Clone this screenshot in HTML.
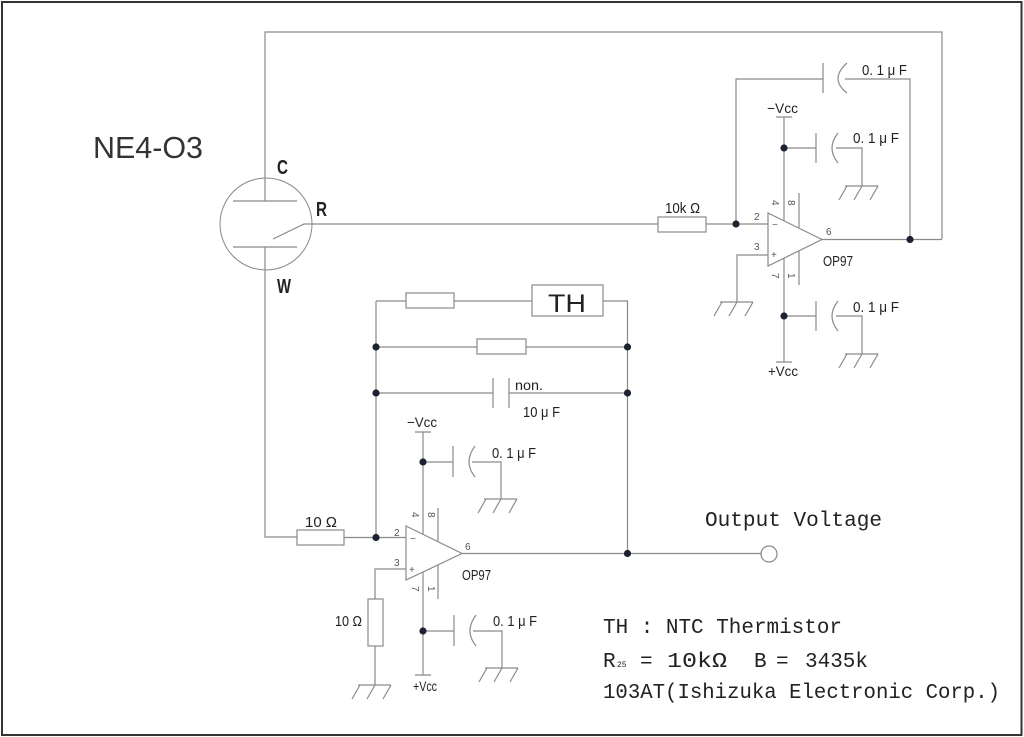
<!DOCTYPE html>
<html><head><meta charset="utf-8"><style>
html,body{margin:0;padding:0;background:#fff;}
svg{display:block;}
text{font-family:"Liberation Sans","Noto Sans CJK JP",sans-serif;fill:#222;}
.m{font-family:"Liberation Mono","Noto Sans CJK JP",monospace;fill:#222;}
.p{font-size:10px;fill:#555;}
</style></head><body>
<svg width="1024" height="737" viewBox="0 0 1024 737" xmlns="http://www.w3.org/2000/svg">
<rect x="2" y="2" width="1019.5" height="733" fill="#fff" stroke="#333" stroke-width="2"/>
<g fill="none" stroke="#8a8a8a" stroke-width="1.2">
<!-- sensor -->
<circle cx="266" cy="224" r="46" stroke="#888" stroke-width="1"/>
<path d="M942,239 V32 H265 V201"/>
<path d="M233,201 H297 M233,247 H297"/>
<path d="M265,247 V537 H297"/>
<path d="M273,239 L304,224 H658"/>
<!-- upper opamp -->
<rect x="658" y="217" width="48" height="15"/>
<path d="M706,224 H768"/>
<path d="M736,224 V79 H823 M823,63 V93"/>
<path d="M847,63 Q829,79 847,93"/>
<path d="M845,79 H910 V239"/>
<path d="M822,239.5 H942"/>
<path d="M768,213 L822,239.5 L768,266 Z"/>
<path d="M784,117 V221 M776,117 H792"/>
<path d="M784,148 H816 M816,133 V163"/>
<path d="M838,133 Q826,148 838,163"/>
<path d="M836,148 H862 V186"/>
<path d="M845,186 H878 M847,186 L839,200 M862,186 L854,200 M878,186 L870,200"/>
<path d="M799,193 V228 M799,251 V285"/>
<path d="M784,258 V362 M776,362 H792"/>
<path d="M784,316 H816 M816,301 V331"/>
<path d="M838,301 Q826,316 838,331"/>
<path d="M836,316 H862 V354"/>
<path d="M845,354 H878 M847,354 L839,368 M862,354 L854,368 M878,354 L870,368"/>
<path d="M768,255 H737 V302"/>
<path d="M720,302 H753 M722,302 L714,316 M737,302 L729,316 M753,302 L745,316"/>
<!-- feedback network -->
<path d="M376,301 V537"/>
<path d="M376,301 H406 M454,301 H532 M603,301 H627.5 V554"/>
<rect x="406" y="293" width="48" height="15"/>
<rect x="532" y="285" width="71" height="31"/>
<path d="M376,347 H477 M526,347 H627.5"/>
<rect x="477" y="339" width="49" height="15"/>
<path d="M376,393 H493 M493,378 V408 M509,378 V408 M509,393 H627.5"/>
<!-- lower opamp -->
<rect x="297" y="530" width="47" height="15"/>
<path d="M344,537.5 H406"/>
<path d="M406,526 L462,553.5 L406,580 Z"/>
<path d="M423,432 V534 M415,432 H431"/>
<path d="M423,462 H453 M453,446 V477"/>
<path d="M475,446 Q463,462 475,477"/>
<path d="M472,462 H501 V499"/>
<path d="M484,499 H517 M486,499 L478,513 M501,499 L493,513 M517,499 L509,513"/>
<path d="M438,508 V541 M438,565 V599"/>
<path d="M423,572 V675 M415,675 H431"/>
<path d="M423,631 H454 M454,615 V646"/>
<path d="M476,615 Q464,631 476,646"/>
<path d="M473,631 H502 V668"/>
<path d="M485,668 H518 M487,668 L479,682 M502,668 L494,682 M518,668 L510,682"/>
<path d="M406,569 H375 V599"/>
<rect x="368" y="599" width="15" height="47"/>
<path d="M375,646 V685"/>
<path d="M358,685 H391 M360,685 L352,699 M375,685 L367,699 M391,685 L383,699"/>
<path d="M462,553.5 H761"/>
</g>
<circle cx="769" cy="554" r="8" fill="#fff" stroke="#888" stroke-width="1.2"/>
<g fill="#1c2230">
<circle cx="910" cy="239.5" r="3.6"/>
<circle cx="736" cy="224" r="3.6"/>
<circle cx="784" cy="148" r="3.6"/>
<circle cx="784" cy="316" r="3.6"/>
<circle cx="376" cy="347" r="3.6"/>
<circle cx="627.5" cy="347" r="3.6"/>
<circle cx="376" cy="393" r="3.6"/>
<circle cx="627.5" cy="393" r="3.6"/>
<circle cx="376" cy="537.5" r="3.6"/>
<circle cx="423" cy="462" r="3.6"/>
<circle cx="423" cy="631" r="3.6"/>
<circle cx="627.5" cy="553.5" r="3.6"/>
</g>
<!-- labels -->
<text x="93" y="158" font-size="31" textLength="110" lengthAdjust="spacingAndGlyphs" style="fill:#333">NE4-O3</text>
<text x="277" y="174" font-size="20" font-weight="bold" textLength="11" lengthAdjust="spacingAndGlyphs">C</text>
<text x="316" y="216" font-size="20" font-weight="bold" textLength="11" lengthAdjust="spacingAndGlyphs">R</text>
<text x="277" y="293" font-size="20" font-weight="bold" textLength="14" lengthAdjust="spacingAndGlyphs">W</text>

<text x="862" y="75" font-size="15" textLength="45" lengthAdjust="spacingAndGlyphs">0. 1 μ F</text>
<text x="853" y="143" font-size="15" textLength="46" lengthAdjust="spacingAndGlyphs">0. 1 μ F</text>
<text x="853" y="312" font-size="15" textLength="46" lengthAdjust="spacingAndGlyphs">0. 1 μ F</text>
<text x="492" y="458" font-size="15" textLength="44" lengthAdjust="spacingAndGlyphs">0. 1 μ F</text>
<text x="493" y="626" font-size="15" textLength="44" lengthAdjust="spacingAndGlyphs">0. 1 μ F</text>

<text x="767" y="113" font-size="14" textLength="31" lengthAdjust="spacingAndGlyphs">−Vcc</text>
<text x="768" y="376" font-size="14" textLength="30" lengthAdjust="spacingAndGlyphs">+Vcc</text>
<text x="407" y="427" font-size="14" textLength="30" lengthAdjust="spacingAndGlyphs">−Vcc</text>
<text x="413" y="691" font-size="14" textLength="24" lengthAdjust="spacingAndGlyphs">+Vcc</text>

<text x="665" y="213" font-size="15" textLength="35" lengthAdjust="spacingAndGlyphs">10k Ω</text>
<text x="305" y="527" font-size="15" textLength="32" lengthAdjust="spacingAndGlyphs">10 Ω</text>
<text x="335" y="626" font-size="15" textLength="27" lengthAdjust="spacingAndGlyphs">10 Ω</text>
<text x="515" y="390" font-size="14" textLength="28" lengthAdjust="spacingAndGlyphs">non.</text>
<text x="523" y="417" font-size="15" textLength="37" lengthAdjust="spacingAndGlyphs">10 μ F</text>
<text x="548" y="312" font-size="25" textLength="38" lengthAdjust="spacingAndGlyphs">TH</text>

<text x="823" y="266" font-size="15" textLength="30" lengthAdjust="spacingAndGlyphs">OP97</text>
<text x="462" y="580" font-size="15" textLength="29" lengthAdjust="spacingAndGlyphs">OP97</text>

<!-- pin numbers upper -->
<text class="p" x="754" y="220">2</text>
<text class="p" x="754" y="250">3</text>
<text class="p" x="826" y="235">6</text>
<text class="p" x="772" y="228" font-size="13">−</text>
<text class="p" x="771" y="258" font-size="13">+</text>
<text class="p" transform="translate(772,200) rotate(90)">4</text>
<text class="p" transform="translate(788,200) rotate(90)">8</text>
<text class="p" transform="translate(772,273) rotate(90)">7</text>
<text class="p" transform="translate(788,273) rotate(90)">1</text>
<!-- pin numbers lower -->
<text class="p" x="394" y="536">2</text>
<text class="p" x="394" y="566">3</text>
<text class="p" x="465" y="550">6</text>
<text class="p" x="410" y="542" font-size="13">−</text>
<text class="p" x="409" y="573" font-size="13">+</text>
<text class="p" transform="translate(412,512) rotate(90)">4</text>
<text class="p" transform="translate(428,512) rotate(90)">8</text>
<text class="p" transform="translate(412,586) rotate(90)">7</text>
<text class="p" transform="translate(428,586) rotate(90)">1</text>

<!-- bottom right text -->
<text class="m" x="705" y="526" font-size="21" textLength="177" lengthAdjust="spacingAndGlyphs">Output Voltage</text>
<text class="m" x="603" y="633" font-size="21" textLength="239" lengthAdjust="spacingAndGlyphs">TH : NTC Thermistor</text>
<text class="m" x="603" y="667" font-size="21">R</text>
<text class="m" x="617" y="667" font-size="8">25</text>
<text class="m" x="640" y="667" font-size="21">=</text>
<text class="m" x="667" y="667" font-size="21" textLength="60" lengthAdjust="spacingAndGlyphs">10kΩ</text>
<text class="m" x="754" y="667" font-size="21">B</text>
<text class="m" x="776" y="667" font-size="21">=</text>
<text class="m" x="805" y="667" font-size="21" textLength="63" lengthAdjust="spacingAndGlyphs">3435k</text>
<text class="m" x="603" y="698" font-size="21" textLength="397" lengthAdjust="spacingAndGlyphs">103AT(Ishizuka Electronic Corp.)</text>
</svg>
</body></html>
